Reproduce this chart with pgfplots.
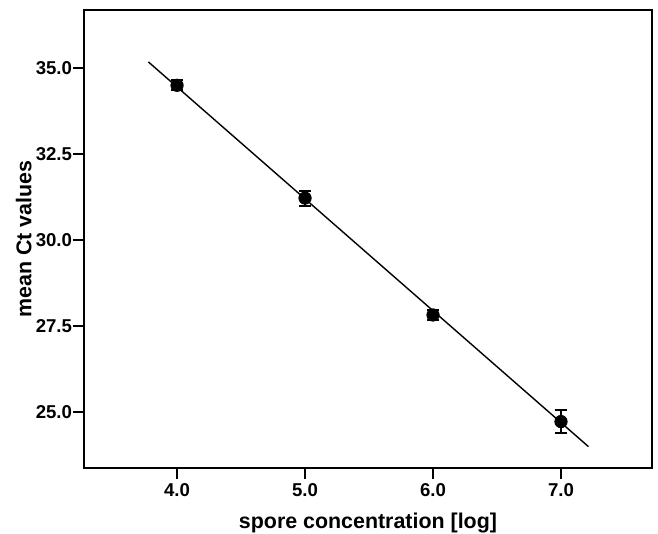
\documentclass[border=0pt]{standalone}
\usepackage{pgfplots}
\pgfplotsset{compat=1.18}
\usepackage{fontspec}
\setmainfont{Liberation Sans}
\begin{document}
\begin{tikzpicture}
\useasboundingbox (-42pt,-33pt) rectangle (287pt,234pt);
\begin{axis}[
    scale only axis,
    width=284pt, height=229pt,
    xmin=3.273, xmax=7.711,
    ymin=23.37, ymax=36.69,
    xtick={4,5,6,7},
    ytick={25,27.5,30,32.5,35},
    /pgf/number format/assume math mode=true,
    /pgf/number format/fixed,
    /pgf/number format/fixed zerofill,
    /pgf/number format/precision=1,
    ticklabel style={font=\fontsize{9.3}{11}\selectfont\bfseries},
    xticklabel style={inner sep=1pt, yshift=-1pt},
    yticklabel style={inner sep=0.3pt},
    tick align=outside,
    major tick length=5.5pt,
    tick style={line width=0.9pt, black},
    axis line style={line width=1.1pt},
    xtick pos=bottom, ytick pos=left,
    xlabel={spore concentration [log]},
    ylabel={mean Ct values},
    label style={font=\fontsize{10.7}{12}\selectfont\bfseries},
    xlabel style={at={(axis description cs:0.5,-0.12)}, anchor=center},
    ylabel style={at={(axis description cs:-0.106,0.5)}, anchor=center},
]
% fit line
\addplot[black, line width=0.7pt] coordinates {(3.776,35.18) (7.215,23.99)};
% means with error bars
\addplot[only marks, mark=*, mark size=3.1pt, black,
    error bars/.cd, y dir=both, y explicit,
    error bar style={line width=1pt},
    error mark options={rotate=90, mark size=3.2pt, line width=1pt}]
  coordinates {
    (4,34.50) +- (0,0.15)
    (5,31.22) +- (0,0.22)
    (6,27.82) +- (0,0.14)
    (7,24.72) +- (0,0.34)
};
\end{axis}
\end{tikzpicture}
\end{document}
